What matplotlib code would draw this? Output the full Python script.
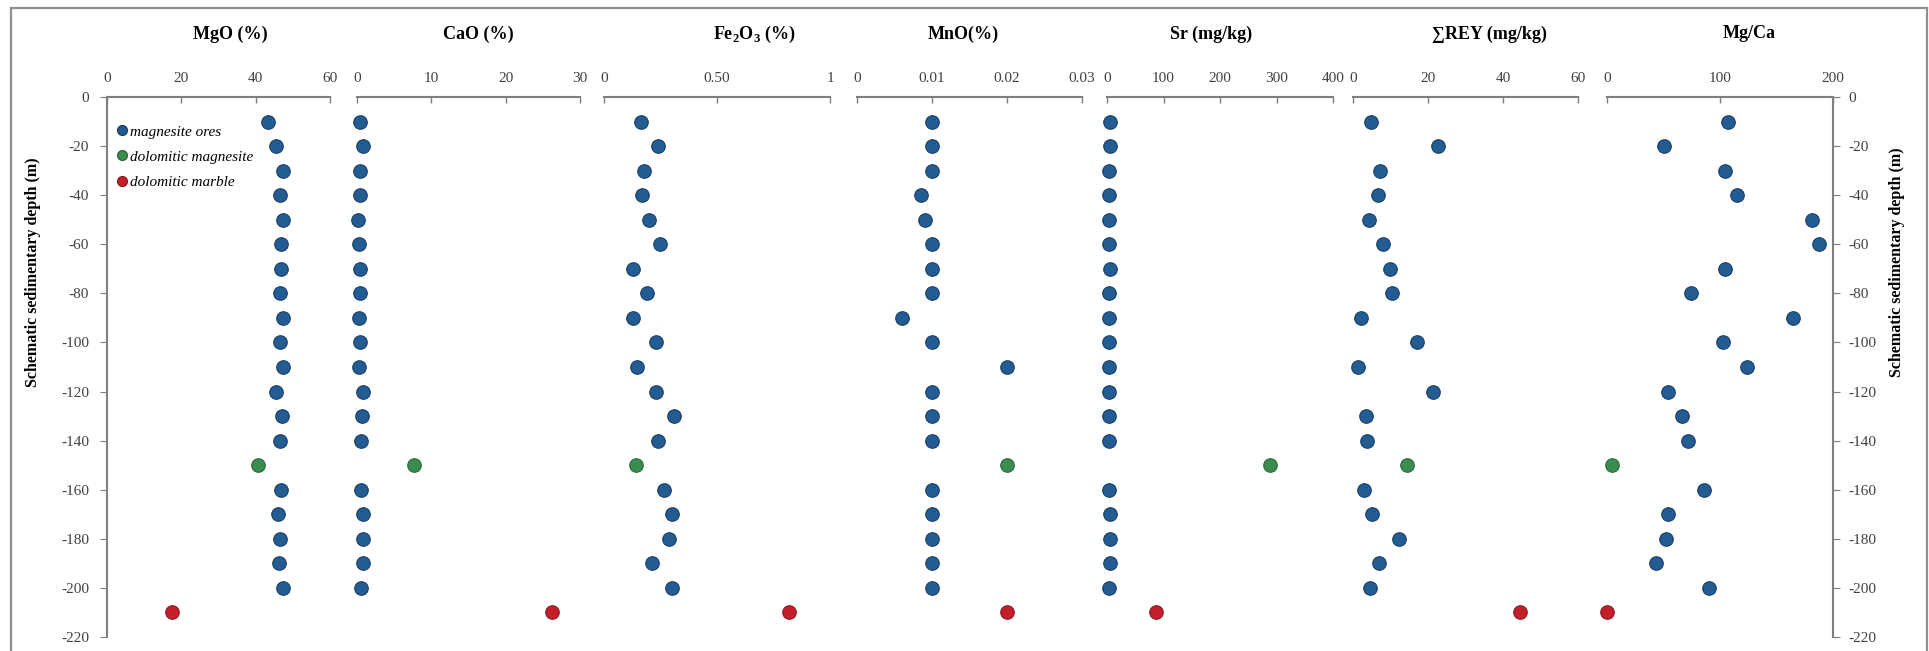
import matplotlib.pyplot as plt
import numpy as np
from matplotlib.lines import Line2D

plt.rcParams['font.family'] = ['Liberation Serif', 'DejaVu Serif']
plt.rcParams['mathtext.fontset'] = 'custom'
plt.rcParams['mathtext.rm'] = 'Liberation Serif'
plt.rcParams['mathtext.bf'] = 'Liberation Serif:bold'
plt.rcParams['axes.unicode_minus'] = False

# depths (m)
depth_ores = [-10, -20, -30, -40, -50, -60, -70, -80, -90, -100, -110, -120, -130, -140,
              -160, -170, -180, -190, -200]
depth_dolomag = [-150]
depth_marble = [-210]

# values per sample group: magnesite ores / dolomitic magnesite / dolomitic marble
mgo_ores = [43.4, 45.6, 47.3, 46.5, 47.3, 46.8, 46.8, 46.5, 47.3, 46.5, 47.3, 45.6, 47.0, 46.5,
            46.8, 45.9, 46.5, 46.3, 47.3]
mgo_dolomag = [40.7]
mgo_marble = [17.4]

cao_ores = [0.4, 0.85, 0.4, 0.4, 0.2, 0.3, 0.4, 0.4, 0.3, 0.4, 0.3, 0.8, 0.7, 0.6,
            0.6, 0.85, 0.8, 0.85, 0.6]
cao_dolomag = [7.7]
cao_marble = [26.2]

fe2o3_ores = [0.162, 0.240, 0.178, 0.170, 0.199, 0.249, 0.130, 0.189, 0.130, 0.230, 0.147, 0.230,
              0.310, 0.240, 0.267, 0.300, 0.289, 0.211, 0.300]
fe2o3_dolomag = [0.140]
fe2o3_marble = [0.82]

mno_ores = [0.01, 0.01, 0.01, 0.0085, 0.009, 0.01, 0.01, 0.01, 0.006, 0.01, 0.02, 0.01, 0.01, 0.01,
            0.01, 0.01, 0.01, 0.01, 0.01]
mno_dolomag = [0.02]
mno_marble = [0.02]

sr_ores = [5, 6, 3.5, 3.5, 3.5, 3.5, 4.5, 3.5, 4, 4, 3.5, 4, 4, 4,
           4, 4.5, 4.5, 4.5, 4]
sr_dolomag = [289]
sr_marble = [87]

rey_ores = [4.7, 22.6, 7.3, 6.6, 4.2, 8.0, 9.8, 10.4, 2.2, 17.1, 1.3, 21.2, 3.5, 3.8,
            2.9, 5.1, 12.2, 6.9, 4.5]
rey_dolomag = [14.4]
rey_marble = [44.4]

mgca_ores = [107, 50, 104, 115, 181, 188, 104, 74, 165, 102.5, 124, 54, 66, 72,
             86, 54, 52.5, 43, 90]
mgca_dolomag = [4.4]
mgca_marble = [0.3]

titles = ['MgO (%)', 'CaO (%)', r'Fe$_{\mathbf{2}}$O$_{\mathbf{3}}$ (%)', 'MnO(%)',
          'Sr (mg/kg)', '\u2211REY (mg/kg)', 'Mg/Ca']
xmax = [60, 30, 1, 0.03, 400, 60, 200]
xticks = [[0, 20, 40, 60], [0, 10, 20, 30], [0, 0.5, 1], [0, 0.01, 0.02, 0.03],
          [0, 100, 200, 300, 400], [0, 20, 40, 60], [0, 100, 200]]
xticklabels = [['0', '20', '40', '60'], ['0', '10', '20', '30'], ['0', '0.50', '1'],
               ['0', '0.01', '0.02', '0.03'], ['0', '100', '200', '300', '400'],
               ['0', '20', '40', '60'], ['0', '100', '200']]
series = [(mgo_ores, mgo_dolomag, mgo_marble), (cao_ores, cao_dolomag, cao_marble),
          (fe2o3_ores, fe2o3_dolomag, fe2o3_marble), (mno_ores, mno_dolomag, mno_marble),
          (sr_ores, sr_dolomag, sr_marble), (rey_ores, rey_dolomag, rey_marble),
          (mgca_ores, mgca_dolomag, mgca_marble)]
yticks = list(range(0, -221, -20))

group_names = ['magnesite ores', 'dolomitic magnesite', 'dolomitic marble']
colors = ['#235c92', '#3b8d4f', '#c4202b']
edges = ['#173f66', '#2a6a3a', '#8e1820']

# layout in pixels of the original picture
W, H = 1929, 651
panel_px = [(107, 330), (357, 580), (604, 830), (857, 1082), (1107, 1333), (1353, 1578), (1607, 1833)]
title_px = [230, 478, 754, 963, 1211, 1489, 1749]
top_px, bot_px = 97, 637
axis_grey = '#7f7f7f'
tick_col = '#404040'

fig = plt.figure(figsize=(W / 100, H / 100), dpi=100)

# outer frame
for xs, ys in [([11, 11], [0, 8]), ([11, 1927], [8, 8]), ([1927, 1927], [8, 0])]:
    fig.add_artist(Line2D([x / W for x in xs], [1 - y / H if y else 0 for y in ys],
                          color='#909090', lw=1.6, transform=fig.transFigure))

axes = []
for i, (x0, x1) in enumerate(panel_px):
    ax = fig.add_axes([x0 / W, 1 - bot_px / H, (x1 - x0) / W, (bot_px - top_px) / H])
    ores, dm, mb = series[i]
    for vals, dep, c, e in zip((ores, dm, mb), (depth_ores, depth_dolomag, depth_marble), colors, edges):
        ax.scatter(vals, dep, s=95, color=c, edgecolors=e, linewidths=0.8, zorder=3, clip_on=False)
    ax.set_xlim(0, xmax[i])
    ax.set_ylim(-220, 0)
    ax.xaxis.set_ticks_position('top')
    ax.set_xticks(xticks[i])
    ax.set_xticklabels(xticklabels[i])
    ax.tick_params(axis='x', direction='in', length=4, width=1, color=axis_grey,
                   labelsize=11, labelcolor=tick_col, pad=9)
    for s in ['bottom', 'left', 'right']:
        ax.spines[s].set_visible(False)
    ax.spines['top'].set_color(axis_grey)
    ax.spines['top'].set_linewidth(1.5)
    ax.set_yticks(yticks)
    ax.set_yticklabels([str(v) for v in yticks])
    if i == 0:
        ax.spines['left'].set_visible(True)
        ax.spines['left'].set_color(axis_grey)
        ax.spines['left'].set_linewidth(1.5)
        ax.tick_params(axis='y', left=True, right=False, labelleft=True, labelright=False,
                       direction='out', length=5, color=axis_grey, labelsize=11,
                       labelcolor=tick_col, pad=8)
    elif i == len(panel_px) - 1:
        ax.spines['right'].set_visible(True)
        ax.spines['right'].set_color(axis_grey)
        ax.spines['right'].set_linewidth(1.5)
        ax.yaxis.set_ticks_position('right')
        ax.tick_params(axis='y', left=False, right=True, labelleft=False, labelright=True,
                       direction='out', length=5, color=axis_grey, labelsize=11,
                       labelcolor=tick_col, pad=6)
    else:
        ax.tick_params(axis='y', left=False, right=False, labelleft=False, labelright=False)
    ax.patch.set_visible(False)
    fig.text(title_px[i] / W, 1 - 34 / H, titles[i], ha='center', va='center',
             fontsize=13, fontweight='bold')
    axes.append(ax)

# legend in the first panel
handles = [Line2D([], [], ls='none', marker='o', ms=7, color=c, markeredgecolor=e)
           for c, e in zip(colors, edges)]
axes[0].legend(handles, group_names, loc='upper left', bbox_to_anchor=(0.0, 0.968),
               frameon=False, handlelength=0.6, handletextpad=0.2, labelspacing=0.75,
               borderaxespad=0.3, prop={'style': 'italic', 'size': 11})

ylab = 'Schematic sedimentary depth (m)'
fig.text(33 / W, 1 - 272 / H, ylab, rotation=90, ha='center', va='center',
         fontsize=11.5, fontweight='bold')
fig.text(1897 / W, 1 - 262 / H, ylab, rotation=90, ha='center', va='center',
         fontsize=11.5, fontweight='bold')

fig.savefig('out.png', dpi=100)
